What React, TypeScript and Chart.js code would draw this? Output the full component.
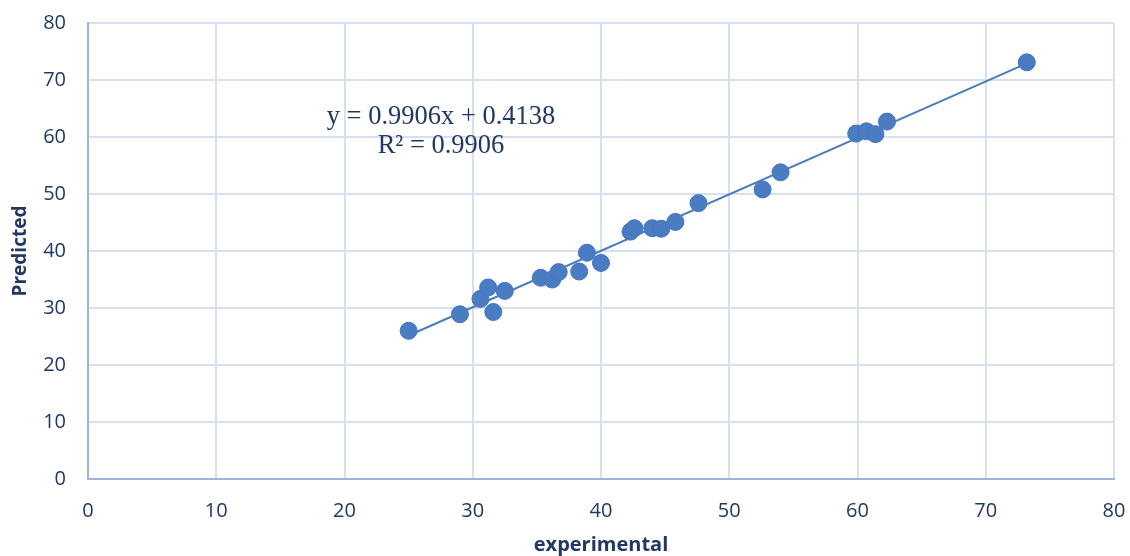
import React, { useEffect, useRef } from "react";
import { Chart, registerables } from "chart.js";

Chart.register(...registerables);

const experimental = [25.0, 29.0, 30.6, 31.2, 31.6, 32.5, 35.3, 36.2, 36.7, 38.3, 38.9, 40.0, 42.3, 42.6, 44.0, 44.7, 45.8, 47.6, 52.6, 54.0, 59.9, 60.7, 61.4, 62.3, 73.2];
const predicted = [26.0, 28.9, 31.6, 33.6, 29.3, 33.0, 35.3, 35.0, 36.3, 36.4, 39.7, 37.9, 43.4, 44.0, 44.0, 43.9, 45.1, 48.4, 50.8, 53.8, 60.6, 61.0, 60.5, 62.7, 73.1];
const slope = 0.9906;
const intercept = 0.4138;
const equationText = "y = 0.9906x + 0.4138";
const r2Text = "R² = 0.9906";
const xTitle = "experimental";
const yTitle = "Predicted";

const annotationPlugin = {
  id: "eqAnnotation",
  afterDatasetsDraw(chart: any) {
    const ctx = chart.ctx;
    ctx.save();
    ctx.fillStyle = "#1F3864";
    ctx.font = "26.5px 'Liberation Serif', 'Times New Roman', serif";
    ctx.textAlign = "center";
    ctx.textBaseline = "middle";
    ctx.fillText(equationText, 441, 117);
    ctx.fillText(r2Text, 441, 146);
    ctx.restore();
  },
};

export default function App() {
  const ref = useRef<HTMLCanvasElement | null>(null);
  useEffect(() => {
    document.body.style.margin = "0";
    const xMin = Math.min(...experimental);
    const xMax = Math.max(...experimental);
    const trend = [
      { x: xMin, y: slope * xMin + intercept },
      { x: xMax, y: slope * xMax + intercept },
    ];
    const pts = experimental.map((x, i) => ({ x, y: predicted[i] }));
    const tickColor = "#1F3864";
    const chart = new Chart(ref.current as HTMLCanvasElement, {
      type: "scatter",
      data: {
        datasets: [
          {
            type: "line",
            data: trend,
            borderColor: "#4A7EBB",
            borderWidth: 2,
            pointRadius: 0,
            fill: false,
          } as any,
          {
            data: pts,
            backgroundColor: "#4A7CC4",
            borderColor: "#4472C4",
            borderWidth: 1,
            pointRadius: 8.5,
          },
        ],
      },
      options: {
        animation: false,
        responsive: false,
        maintainAspectRatio: false,
        layout: { padding: { left: 0, top: 23, right: 16, bottom: 0 } },
        plugins: { legend: { display: false }, tooltip: { enabled: false } },
        scales: {
          x: {
            type: "linear",
            min: 0,
            max: 80,
            ticks: { stepSize: 10, color: tickColor, font: { family: "Open Sans", size: 20 }, padding: 20 },
            grid: { color: "#D6E0F0", lineWidth: 2, drawTicks: false },
            border: { color: "#9DB4DC", width: 2 },
            title: { display: true, text: xTitle, color: tickColor, font: { family: "Open Sans", size: 20, weight: "bold" }, padding: { top: 0, bottom: -1 } },
            afterFit: (s: any) => { s.height = 77; s.paddingLeft = 0; s.paddingRight = 0; },
          },
          y: {
            type: "linear",
            min: 0,
            max: 80,
            ticks: { stepSize: 10, color: tickColor, font: { family: "Open Sans", size: 20 }, padding: 22 },
            grid: { color: "#D6E0F0", lineWidth: 2, drawTicks: false },
            border: { color: "#9DB4DC", width: 2 },
            title: { display: true, text: yTitle, color: tickColor, font: { family: "Open Sans", size: 19, weight: "bold" }, padding: { top: 9, bottom: 0 } },
            afterFit: (s: any) => { s.width = 88; s.paddingTop = 0; s.paddingBottom = 0; },
          },
        },
      },
      plugins: [annotationPlugin],
    });
    return () => chart.destroy();
  }, []);
  return (
    <div style={{ width: 1130, height: 556 }}>
      <canvas ref={ref} width={1130} height={556} style={{ width: 1130, height: 556, display: "block" }} />
    </div>
  );
}
